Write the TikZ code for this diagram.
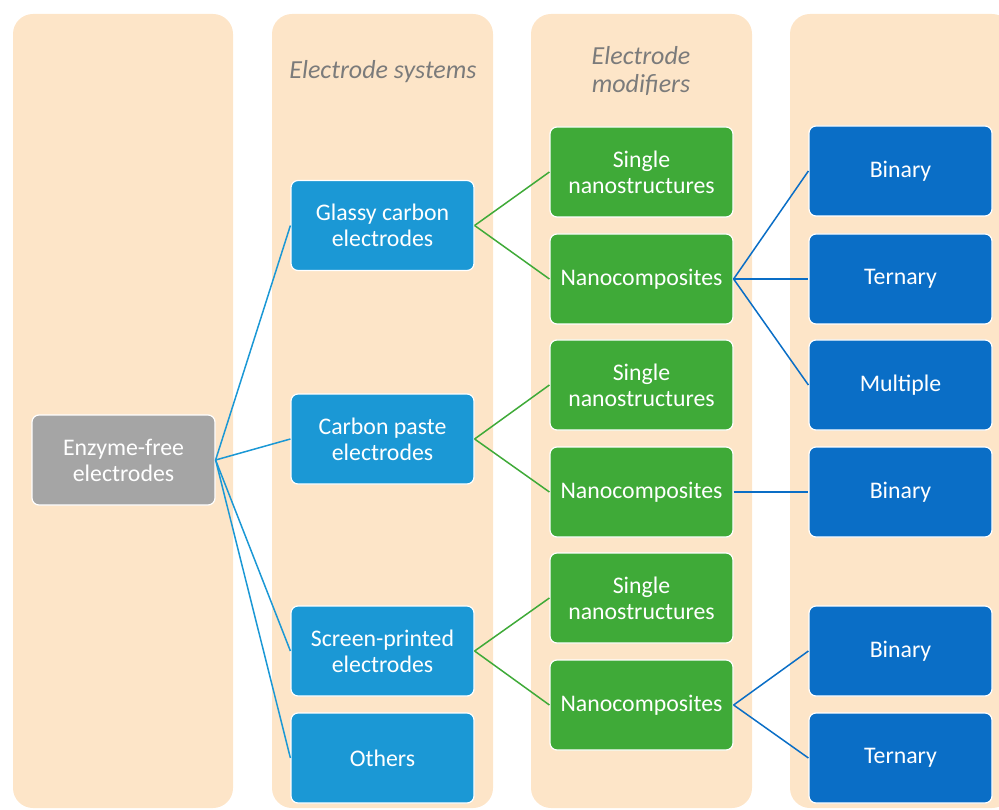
\documentclass[tikz,border=0pt]{standalone}
\usepackage{fontspec}
\setmainfont{Carlito}
\usepackage{tikz}
\definecolor{colbg}{HTML}{FDE5C8}
\definecolor{rootgrey}{HTML}{A5A5A5}
\definecolor{sysblue}{HTML}{1B98D5}
\definecolor{modgreen}{HTML}{3FAA38}
\definecolor{compblue}{HTML}{0A6EC6}
\definecolor{headgrey}{HTML}{7B7B7B}
\tikzset{
	column/.style={fill=colbg, rounded corners=20pt},
	head/.style={text=headgrey, align=center, font=\fontsize{26}{28}\selectfont\itshape},
	box/.style={draw=white, line width=1.2pt, rounded corners=7pt, minimum width=183pt, minimum height=90pt, align=center, text=white, font=\fontsize{23.8}{26}\selectfont},
	rootbox/.style={box, fill=rootgrey},
	sysbox/.style={box, fill=sysblue},
	modbox/.style={box, fill=modgreen},
	compbox/.style={box, fill=compblue},
	sysline/.style={draw=sysblue, line width=1.5pt},
	modline/.style={draw=modgreen, line width=1.5pt},
	compline/.style={draw=compblue, line width=1.5pt}
}
\begin{document}
\begin{tikzpicture}[x=1pt,y=-1pt]
			\useasboundingbox (0,0) rectangle (999,810);
			\clip (0,0) rectangle (999,810);
			\fill[column] (13,14) rectangle (233,808);
			\fill[column] (272,14) rectangle (493,808);
			\fill[column] (531,14) rectangle (752,808);
			\fill[column] (790,14) rectangle (1012,808);
			\node[head] (hsys) at (383,72) {Electrode systems};
			\node[head] (hmod) at (641,71) {Electrode\\modifiers};
			\node[rootbox] (enzyme) at (123.5,460) {Enzyme-free\\electrodes};
			\node[sysbox] (glassy) at (382.5,225.5) {Glassy carbon\\electrodes};
			\node[sysbox] (paste) at (382.5,439) {Carbon paste\\electrodes};
			\node[sysbox] (screen) at (382.5,651) {Screen-printed\\electrodes};
			\node[sysbox] (others) at (382.5,758) {Others};
			\node[modbox] (singleA) at (641.5,172) {Single\\nanostructures};
			\node[modbox] (nanoA) at (641.5,279) {Nanocomposites};
			\node[modbox] (singleB) at (641.5,385) {Single\\nanostructures};
			\node[modbox] (nanoB) at (641.5,492) {Nanocomposites};
			\node[modbox] (singleC) at (641.5,598) {Single\\nanostructures};
			\node[modbox] (nanoC) at (641.5,705) {Nanocomposites};
			\node[compbox] (binA) at (900.5,171) {Binary};
			\node[compbox] (terA) at (900.5,279) {Ternary};
			\node[compbox] (multA) at (900.5,385) {Multiple};
			\node[compbox] (binB) at (900.5,492) {Binary};
			\node[compbox] (binC) at (900.5,651) {Binary};
			\node[compbox] (terC) at (900.5,758) {Ternary};
			\draw[sysline] (enzyme.east) -- (glassy.west);
			\draw[sysline] (enzyme.east) -- (paste.west);
			\draw[sysline] (enzyme.east) -- (screen.west);
			\draw[sysline] (enzyme.east) -- (others.west);
			\draw[modline] (glassy.east) -- (singleA.west);
			\draw[modline] (glassy.east) -- (nanoA.west);
			\draw[modline] (paste.east) -- (singleB.west);
			\draw[modline] (paste.east) -- (nanoB.west);
			\draw[modline] (screen.east) -- (singleC.west);
			\draw[modline] (screen.east) -- (nanoC.west);
			\draw[compline] (nanoA.east) -- (binA.west);
			\draw[compline] (nanoA.east) -- (terA.west);
			\draw[compline] (nanoA.east) -- (multA.west);
			\draw[compline] (nanoB.east) -- (binB.west);
			\draw[compline] (nanoC.east) -- (binC.west);
			\draw[compline] (nanoC.east) -- (terC.west);
		\end{tikzpicture}
\end{document}
